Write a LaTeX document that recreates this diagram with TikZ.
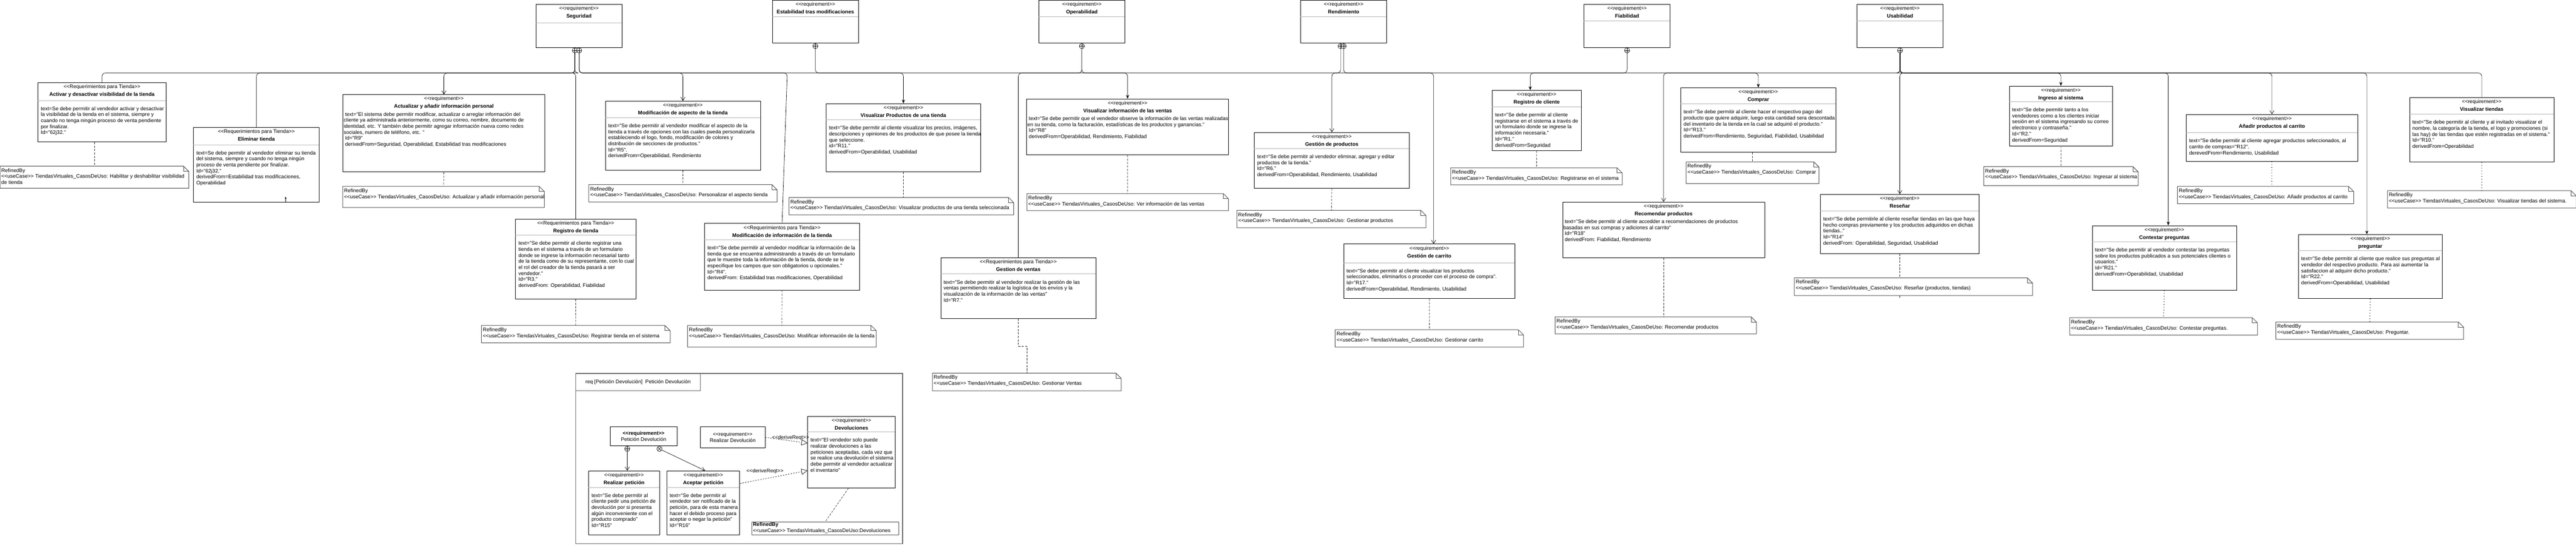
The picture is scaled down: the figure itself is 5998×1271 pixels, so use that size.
\documentclass[tikz,border=0pt]{standalone}
\usepackage{fontspec}
\setmainfont{Liberation Sans}[Ligatures=TeXOff]
\usetikzlibrary{positioning,arrows.meta}

% requirement block: name, x, y, width, height, divider (negative = none), stereotype, title, text
\newcommand{\reqbox}[9]{%
  \node[reqframe, minimum width=#4, minimum height=#5] (#1) at (#2,#3) {};
  \node[reqhead] at ([yshift=-5pt]#1.north) {#7\\\textbf{#8}};
  \ifnum#6>0
    \draw[divider] (#2,{#3+#6}) -- ({#2+#4},{#3+#6});
    \node[reqtext] at ({#2+7},{#3+#6+14}) {#9};
  \else
    \node[reqtext] at ({#2+2},{#3-(#6)+14}) {#9};
  \fi
}

% note with folded corner: name, x, y, width, height, text
\newcommand{\refnote}[6]{%
  \node[notebox, minimum width=#4, minimum height=#5] (#1) at (#2,#3) {};
  \filldraw[noteline] (#1.north west) -- ([xshift=-12pt]#1.north east) -- ([yshift=-12pt]#1.north east) -- (#1.south east) -- (#1.south west) -- cycle;
  \draw[noteline, fill=none] ([xshift=-12pt]#1.north east) |- ([yshift=-12pt]#1.north east);
  \node[notetext] at ([xshift=3pt,yshift=-5pt]#1.north west) {#6};
}

\begin{document}
\begin{tikzpicture}[
    x=1pt, y=-1pt,
    font=\fontsize{12}{14}\selectfont,
    reqframe/.style={rectangle, draw, line width=1pt, fill=white, anchor=north west, inner sep=0},
    reqhead/.style={anchor=north, align=center, inner sep=0, font=\fontsize{12}{18}\selectfont},
    reqtext/.style={anchor=north west, align=left, inner sep=0},
    divider/.style={gray!60, line width=1pt},
    notebox/.style={rectangle, anchor=north west, inner sep=0},
    noteline/.style={draw=black!70, line width=1.2pt, fill=white},
    notetext/.style={anchor=north west, align=left, inner sep=0},
    pkgframe/.style={rectangle, draw=gray!80!black, line width=1.5pt, anchor=north west, inner sep=0},
    contain/.style={circle, draw, fill=white, line width=0.8pt, inner sep=0, minimum size=12pt,
        path picture={\draw[line width=0.8pt] (path picture bounding box.north) -- (path picture bounding box.south)
            (path picture bounding box.west) -- (path picture bounding box.east);}},
    containx/.style={circle, draw, fill=white, line width=0.8pt, inner sep=0, minimum size=12pt,
        path picture={\draw[line width=0.8pt] (path picture bounding box.north west) -- (path picture bounding box.south east)
            (path picture bounding box.south west) -- (path picture bounding box.north east);}},
    tree/.style={rounded corners=8pt, line width=0.8pt},
    openarrow/.style={tree, -{Straight Barb[length=8pt, width=10pt]}},
    fullarrow/.style={tree, -{Stealth[length=9pt, width=7pt]}},
    refine/.style={gray!30!black, dash pattern=on 5pt off 3pt, line width=0.8pt},
    refinedot/.style={dash pattern=on 1.5pt off 5pt, line width=1.4pt},
    derive/.style={dash pattern=on 3pt off 3pt, line width=0.8pt, -{Triangle[open, length=14pt, width=14pt]}},
    lbl/.style={inner sep=1pt}
]
\useasboundingbox (0,0) rectangle (5998,1271);

% Top requirements
\reqbox{seguridad}{1247}{10}{201}{100}{43}{<<requirement>>}{Seguridad}{}
\reqbox{estabilidad}{1798}{0}{200}{100}{39}{<<requirement>>}{Estabilidad tras modificaciones}{}
\reqbox{operabilidad}{2418}{0}{201}{100}{39}{<<requirement>>}{Operabilidad}{}
\reqbox{rendimiento}{3028}{0}{200}{100}{39}{<<requirement>>}{Rendimiento}{}
\reqbox{fiabilidad}{3688}{10}{200}{100}{38}{<<requirement>>}{Fiabilidad}{}
\reqbox{usabilidad}{4323}{10}{201}{100}{38}{<<requirement>>}{Usabilidad}{}

% Containment
\node[contain, below=0pt of seguridad.south, xshift=-9.5pt] (segc1) {};
\node[contain, below=0pt of seguridad.south, xshift=0.5pt] (segc2) {};
\node[contain, below=0pt of estabilidad.south] (estc) {};
\node[contain, below=0pt of operabilidad.south] (opc) {};
\node[contain, below=0pt of rendimiento.south, xshift=-7pt] (rendc1) {};
\node[contain, below=0pt of rendimiento.south] (rendc2) {};
\node[contain, below=0pt of fiabilidad.south] (fiabc) {};
\node[contain, below=0pt of usabilidad.south] (usabc) {};

% Store requirements
\reqbox{activar}{88}{192}{298}{138}{42}{<<Requerimientos para Tienda>>}{Activar y desactivar visibilidad de la tienda}{text=Se debe permitir al vendedor activar y desactivar\\la visibilidad de la tienda en el sistema, siempre y\\cuando no tenga ningún proceso de venta pendiente\\por finalizar.\\Id="62j32."}
\reqbox{eliminar}{450}{296}{293}{174}{41}{<<Requerimientos para Tienda>>}{Eliminar tienda}{text=Se debe permitir al vendedor eliminar su tienda\\del sistema, siempre y cuando no tenga ningún\\proceso de venta pendiente por finalizar.\\Id="62j32."\\derivedFrom=Estabilidad tras modificaciones,\\Operabilidad}
\reqbox{actualizar}{798}{220}{470}{180}{-27}{<<requirement>>}{Actualizar y añadir información personal}{\ text="El sistema debe permitir modificar, actualizar o arreglar información del\\cliente ya administrada anteriormente, como su correo, nombre, documento de\\identidad, etc. Y también debe permitir agregar información nueva como redes\\sociales, numero de teléfono, etc. "\\\ Id="R9"\\\ derivedFrom=Seguridad, Operabilidad, Estabilidad tras modificaciones}
\reqbox{aspecto}{1409}{235}{361}{161}{39}{<<requirement>>}{Modificación de aspecto de la tienda}{text="Se debe permitir al vendedor modificar el aspecto de la\\tienda a través de opciones con las cuales pueda personalizarla\\estableciendo el logo, fondo, modificación de colores y\\distribución de secciones de productos."\\Id="R5".\\derivedFrom=Operabilidad, Rendimiento}
\reqbox{registrotienda}{1200}{510}{280}{186}{38}{<<Requerimientos para Tienda>>}{Registro de tienda}{text="Se debe permitir al cliente registrar una\\tienda en el sistema a través de un formulario\\donde se ingrese la información necesarial tanto\\de la tienda como de su representante, con lo cual\\el rol del creador de la tienda pasará a ser\\vendedor."\\Id="R3."\\derivedFrom: Operabilidad, Fiabilidad}
\reqbox{modinfo}{1640}{520}{361}{155}{38}{<<Requerimientos para Tienda>>}{Modificación de información de la tienda}{text="Se debe permitir al vendedor modificar la información de la\\tienda que se encuentra administrando a través de un formulario\\que le muestre toda la información de la tienda, donde se le\\especifique los campos que son obligatorios u opcionales."\\Id="R4".\\derivedFrom: Estabilidad tras modificaciones, Operabilidad}
\reqbox{visprod}{1923}{241}{360}{159}{38}{<<requirement>>}{Visualizar Productos de una tienda}{text="Se debe permitir al cliente visualizar los precios, imágenes,\\descripciones y opiniones de los productos de que posee la tienda\\que seleccione.\\id="R11."\\derivedFrom=Operabilidad, Usabilidad}
\reqbox{ventas}{2190}{600}{361}{141}{38}{<<Requerimientos para Tienda>>}{Gestion de ventas}{text="Se debe permitir al vendedor realizar la gestión de las\\ventas permitiendo realizar la logística de los envíos y la\\visualización de la información de las ventas"\\Id="R7."}
\reqbox{infoventas}{2390}{230}{470}{130}{-27}{<<requirement>>}{Visualizar información de las ventas}{\ text="Se debe permitir que el vendedor observe la información de las ventas realizadas\\en su tienda, como la facturación, estadísticas de los productos y ganancias."\\\ Id="R8"\\\ derivedFrom=Operabilidad, Rendimiento, Fiabilidad}
\reqbox{gprod}{2920}{308}{361}{130}{38}{<<requirement>>}{Gestión de productos}{text="Se debe permitir al vendedor eliminar, agregar y editar\\productos de la tienda."\\Id="R6."\\derivedFrom=Operabilidad, Rendimiento, Usabilidad}
\reqbox{carrito}{3128}{568}{399}{127}{44}{<<requirement>>}{Gestión de carrito}{text="Se debe permitir al cliente visualizar los productos\\seleccionados, eliminarlos o proceder con el proceso de compra".\\Id="R17."\\derivedFrom=Operabilidad, Rendimiento, Usabilidad}
\reqbox{regcliente}{3474}{210}{207}{140}{39}{<<requirement>>}{Registro de cliente}{text="Se debe permitir al cliente\\registrarse en el sistema a través de\\un formulario donde se ingrese la\\información necesaria."\\Id="R1."\\derivedFrom=Seguridad}
\reqbox{recomendar}{3638}{470}{470}{130}{-27}{<<requirement>>}{Recomendar productos}{\ text="Se debe permitir al cliente accedder a recomendaciones de productos\\basadas en sus compras y adiciones al carrito"\\\ Id="R18"\\\ derivedFrom: Fiabilidad, Rendimiento}
\reqbox{comprar}{3913}{204}{361}{150}{38}{<<requirement>>}{Comprar}{text="Se debe permitir al cliente hacer el respectivo pago del\\producto que quiere adquirir, luego esta cantidad sera descontada\\del inventario de la tienda en la cual se adquirió el producto."\\Id="R13."\\derivedFrom=Rendimiento, Segiuridad, Fiabilidad, Usabilidad}
\reqbox{resenar}{4238}{452}{370}{138}{39}{<<requirement>>}{Reseñar}{text="Se debe permitirle al cliente reseñar tiendas en las que haya\\hecho compras previamente y los productos adquiridos en dichas\\tiendas.."\\Id="R14"\\derivedFrom: Operabilidad, Seguridad, Usabilidad}
\reqbox{ingreso}{4678}{200}{240}{140}{37}{<<requirement>>}{Ingreso al sistema}{text="Se debe permitir tanto a los\\vendedores como a los clientes iniciar\\sesión en el sistema ingresando su correo\\electronico y contraseña."\\Id="R2."\\derivedFrom=Seguridad}
\reqbox{contestar}{4871}{525}{336}{150}{38}{<<requirement>>}{Contestar preguntas}{text="Se debe permitir al vendedor contestar las preguntas\\sobre los productos publicados a sus potenciales clientes o\\usuarios."\\Id="R21."\\derivedFrom=Operabilidad, Usabilidad}
\reqbox{anadir}{5090}{266}{399}{109}{43}{<<requirement>>}{Añadir productos al carrito}{text="Se debe permitir al cliente agregar productos seleccionados, al\\carrito de compras="R12".\\derevedFrom=Rendimiento, Usabilidad}
\reqbox{preguntar}{5351}{546}{335}{149}{38}{<<requirement>>}{preguntar}{text="Se debe permitir al cliente que realice sus preguntas al\\vendedor del respectivo producto. Para asi aumentar la\\satisfaccion al adquirir dicho producto."\\Id="R22."\\derivedFrom=Operabilidad, Usabilidad}
\reqbox{vistiendas}{5610}{227}{336}{150}{39}{<<requirement>>}{Visualizar tiendas}{text="Se debe permitir al cliente y al invitado visualizar el\\nombre, la categoría de la tienda, el logo y promociones (si\\las hay) de las tiendas que estén registradas en el sistema."\\Id="R10."\\derivedFrom=Operabilidad}

% RefinedBy notes
\refnote{nactivar}{0}{387}{439}{51}{RefinedBy\\<<useCase>> TiendasVirtuales\_CasosDeUso: Habilitar y deshabilitar visibilidad\\de tienda}
\refnote{nactualizar}{798}{434}{469}{49}{RefinedBy\\<<useCase>> TiendasVirtuales\_CasosDeUso: Actualizar y añadir información personal}
\refnote{naspecto}{1371}{430}{438}{40}{RefinedBy\\<<useCase>> TiendasVirtuales\_CasosDeUso: Personalizar el aspecto tienda}
\refnote{nvisprod}{1837}{460}{523}{40}{RefinedBy\\<<useCase>> TiendasVirtuales\_CasosDeUso: Visualizar productos de una tienda seleccionada}
\refnote{nregistro}{1121}{758}{439}{40}{RefinedBy\\<<useCase>> TiendasVirtuales\_CasosDeUso: Registrar tienda en el sistema}
\refnote{nmodinfo}{1601}{758}{439}{50}{RefinedBy\\<<useCase>> TiendasVirtuales\_CasosDeUso: Modificar información de la tienda}
\refnote{ninfoventas}{2391}{451}{469}{39}{RefinedBy\\<<useCase>> TiendasVirtuales\_CasosDeUso: Ver información de las ventas}
\refnote{nventas}{2171}{869}{439}{41}{RefinedBy\\<<useCase>> TiendasVirtuales\_CasosDeUso: Gestionar Ventas}
\refnote{ngprod}{2880}{490}{440}{40}{RefinedBy\\<<useCase>> TiendasVirtuales\_CasosDeUso: Gestionar productos}
\refnote{nregcliente}{3378}{391}{399}{39}{RefinedBy\\<<useCase>> TiendasVirtuales\_CasosDeUso: Registrarse en el sistema}
\refnote{ncarrito}{3109}{768}{438}{40}{RefinedBy\\<<useCase>> TiendasVirtuales\_CasosDeUso: Gestionar carrito}
\refnote{nrecomendar}{3621}{738}{468}{39}{RefinedBy\\<<useCase>> TiendasVirtuales\_CasosDeUso: Recomendar productos}
\refnote{ncomprar}{3926}{377}{309}{50}{RefinedBy\\<<useCase>> TiendasVirtuales\_CasosDeUso: Comprar}
\refnote{nresenar}{4178}{647}{554}{41}{RefinedBy\\<<useCase>> TiendasVirtuales\_CasosDeUso: Reseñar (productos, tiendas)}
\refnote{ningreso}{4619}{388}{359}{44}{RefinedBy\\<<useCase>> TiendasVirtuales\_CasosDeUso: Ingresar al sistema}
\refnote{ncontestar}{4819}{740}{437}{40}{RefinedBy\\<<useCase>> TiendasVirtuales\_CasosDeUso: Contestar preguntas.}
\refnote{nanadir}{5070}{434}{410}{40}{RefinedBy\\<<useCase>> TiendasVirtuales\_CasosDeUso: Añadir productos al carrito}
\refnote{npreguntar}{5299}{750}{437}{40}{RefinedBy\\<<useCase>> TiendasVirtuales\_CasosDeUso: Preguntar.}
\refnote{nvistiendas}{5559}{444}{439}{40}{RefinedBy\\<<useCase>> TiendasVirtuales\_CasosDeUso: Visualizar tiendas del sistema.}

% Package Petición Devolución
\node[pkgframe, minimum width=761, minimum height=396] (pkg) at (1340,869) {};
\node[pkgframe, minimum width=290, minimum height=40] (pkgtab) at (1340,869) {req [Petición Devolución]\ \ Petición Devolución};
\node[reqframe, minimum width=156, minimum height=45, align=center, font=\fontsize{12}{15}\selectfont] (peticion) at (1420,993) {\textbf{<<requirement>>}\\Petición Devolución};
\node[contain, below=0pt of peticion.south, xshift=-38pt] (petc1) {};
\node[containx, below=0pt of peticion.south, xshift=37pt] (petc2) {};
\reqbox{realizarpet}{1370}{1096}{165}{149}{39}{<<requirement>>}{Realizar petición}{text="Se debe permitir al\\cliente pedir una petición de\\devolución por si presenta\\algún inconveniente con el\\producto comprado"\\Id="R15"}
\reqbox{aceptarpet}{1552}{1096}{170}{149}{39}{<<requirement>>}{Aceptar petición}{text="Se debe permitir al\\vendedor ser notificado de la\\petición, para de esta manera\\hacer el debido proceso para\\aceptar o negar la petición"\\Id="R16"}
\node[reqframe, minimum width=151, minimum height=50, align=center, font=\fontsize{12}{15}\selectfont] (realdev) at (1630,993) {<<requirement>>\\Realizar Devolución};
\reqbox{devol}{1880}{969}{204}{167}{37}{<<requirement>>}{Devoluciones}{text="El vendedor solo puede\\realizar devoluciones a las\\peticiones aceptadas, cada vez que\\se realice una devolución el sistema\\debe permitir al vendedor actualizar\\el inventario"}
\node[notebox, draw=black!70, line width=1.2pt, fill=white, minimum width=342, minimum height=30] (ndevol) at (1750,1215) {};
\node[notetext] at ([xshift=3pt,yshift=-2pt]ndevol.north west) {\textbf{RefinedBy}\\<<useCase>> TiendasVirtuales\_CasosDeUso:Devoluciones};

% Containment links
\coordinate (bus) at (0,170);
\coordinate (modtop) at ([xshift=12pt]modinfo.north);
\draw[tree] (segc1.south) -- (segc1 |- bus) -| (activar.north);
\draw[tree] (segc1.south) -- (segc1 |- bus) -| (eliminar.north);
\draw[openarrow] (segc1.south) -- (segc1 |- bus) -| (actualizar.north);
\draw[tree] (segc1.south) -- (segc1 |- bus) -| (registrotienda.north);
\draw[openarrow] (segc2.south) -- (segc2 |- bus) -| (aspecto.north);
\draw[tree] (segc2.south) -- (segc2 |- bus) -- (modtop |- bus) -- (modinfo.north);
\draw[fullarrow] (segc2.south) -- (segc2 |- bus) -| (visprod.north);
\draw[fullarrow] (estc.south) -- (estc |- bus) -| (infoventas.north);
\draw[tree] (opc.south) -- (opc |- bus) -| (ventas.north);
\draw[openarrow] (opc.south) -- (opc |- bus) -| ([xshift=10pt]carrito.north);
\draw[openarrow] (rendc1.south) -- (rendc1 |- bus) -| (gprod.north);
\draw[fullarrow] (rendc2.south) -- (rendc2 |- bus) -| (comprar.north);
\draw[fullarrow] (fiabc.south) -- (fiabc |- bus) -| ([xshift=-15pt]regcliente.north);
\draw[openarrow] (usabc.south) -- (usabc |- bus) -| (recomendar.north);
\draw[openarrow] (usabc.south) -- (usabc |- bus) -| (resenar.north);
\draw[fullarrow] (usabc.south) -- (usabc |- bus) -| (ingreso.north);
\draw[fullarrow] (usabc.south) -- (usabc |- bus) -| ([xshift=9pt]contestar.north);
\draw[openarrow] (usabc.south) -- (usabc |- bus) -| (anadir.north);
\draw[fullarrow] (usabc.south) -- (usabc |- bus) -| ([xshift=-8pt]preguntar.north);
\draw[tree] (usabc.south) -- (usabc |- bus) -| (vistiendas.north);

% Stub on Eliminar tienda
\coordinate (elimstub) at ([xshift=68pt]eliminar.south);
\coordinate (elimtip) at ([yshift=13pt]elimstub);
\draw[line width=0.8pt, -{Stealth[length=5pt, width=4pt]}] (elimstub) -- (elimtip);

% Refinements
\coordinate (activarref) at ([xshift=-17pt]activar.south);
\draw[refine] (activarref) -- (activarref |- nactivar.north);
\draw[refine] (actualizar.south) -- (nactualizar.north);
\draw[refine] (aspecto.south) -- (naspecto.north);
\draw[refine] (visprod.south) -- (visprod.south |- nvisprod.north);
\draw[refine] (registrotienda.south) -- (nregistro.north);
\draw[refine] (modinfo.south) -- (nmodinfo.north);
\draw[refine] (infoventas.south) -- (ninfoventas.north);
\draw[refine] (ventas.south) -- ++(0,64) -| (nventas.north);
\draw[refine] (gprod.south) -- (ngprod.north);
\draw[refine] (regcliente.south) -- (nregcliente.north);
\draw[refine] (carrito.south) -- (ncarrito.north);
\draw[refine] (recomendar.south) -- (recomendar.south |- nrecomendar.north);
\draw[refine] (ncomprar.north |- comprar.south) -- (ncomprar.north);
\draw[refine] (resenar.south) -- (resenar.south |- nresenar.north);
\coordinate (resenartail) at ([yshift=-7pt]resenar.south |- nresenar.south);
\draw[refine] (resenar.south |- nresenar.south) -- (resenartail);
\draw[refine] (ingreso.south) -- (ningreso.north);
\draw[refinedot] (contestar.south) -- (ncontestar.north);
\draw[refinedot] (anadir.south) -- (anadir.south |- nanadir.north);
\draw[refinedot] (preguntar.south) -- (npreguntar.north);
\draw[refinedot] (vistiendas.south) -- (nvistiendas.north);

% Petición Devolución links
\draw[openarrow] (petc1.south) -- (petc1 |- realizarpet.north);
\draw[openarrow] (petc2.-26) -- ([xshift=4pt]aceptarpet.north);
\draw[derive] (realdev.east) -- node[lbl, pos=0.6, above=0pt] {<<deriveReqt>>} ([yshift=21pt]devol.west);
\draw[derive] ([yshift=45pt]aceptarpet.east) -- node[lbl, pos=0.37, above=10pt] {<<deriveReqt>>} ([yshift=-43pt]devol.west);
\draw[refine] ([xshift=-7pt]devol.south) -- (ndevol.north);

\end{tikzpicture}
\end{document}
